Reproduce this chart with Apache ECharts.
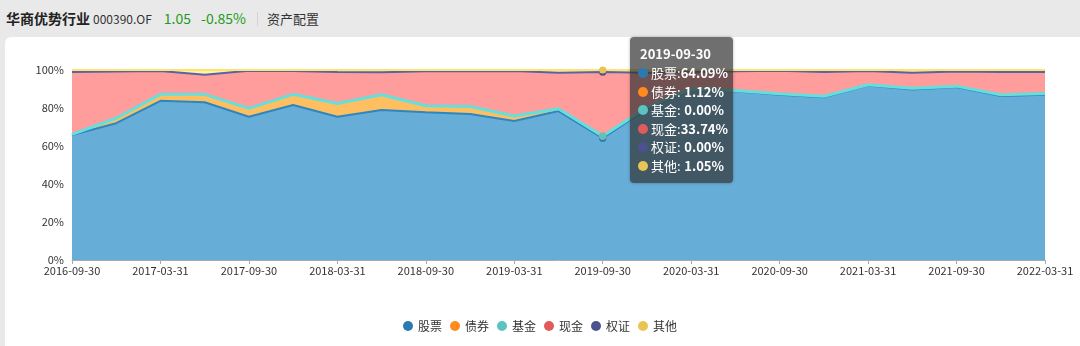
<!DOCTYPE html>
<html>
<head>
<meta charset="utf-8">
<script src="https://cdn.jsdelivr.net/npm/echarts@6/dist/echarts.min.js"></script>
<style>
  html, body { margin:0; padding:0; width:1080px; height:346px; background:#e9e9e9; overflow:hidden;
    font-family: "Noto Sans CJK SC", "Noto Sans", sans-serif; }
  #hdr { position:absolute; left:6px; top:0; height:36px; line-height:34px; white-space:nowrap; }
  #hdr .t { font-size:14px; font-weight:bold; color:#222; }
  #hdr .c { font-size:12px; color:#333; margin-left:3px; }
  #hdr .g { font-size:14px; color:#1e9a1e; margin-left:12px; }
  #hdr .sep { display:inline-block; width:1px; height:14px; background:#d4d4d4; margin:0 9px 0 11px; vertical-align:-2px; }
  #hdr .s { font-size:13px; color:#333; }
  #panel { position:absolute; left:5px; top:37px; right:0; bottom:0; background:#fff; border-top-left-radius:6px; }
  #chart { position:absolute; left:0; top:0; width:1080px; height:346px; }
</style>
</head>
<body>
<div id="hdr"><span class="t">华商优势行业</span><span class="c">000390.OF</span><span class="g">1.05</span><span class="g" style="margin-left:10px">-0.85%</span><span class="sep"></span><span class="s">资产配置</span></div>
<div id="panel"></div>
<div id="chart"></div>
<script>
const dates = ['2016-09-30','2016-12-31','2017-03-31','2017-06-30','2017-09-30','2017-12-31','2018-03-31','2018-06-30','2018-09-30','2018-12-31','2019-03-31','2019-06-30','2019-09-30','2019-12-31','2020-03-31','2020-06-30','2020-09-30','2020-12-31','2021-03-31','2021-06-30','2021-09-30','2021-12-31','2022-03-31'];
const seriesNames = ['股票','债券','基金','现金','权证','其他'];
const stock   = [65.8,72.0,83.8,83.0,75.4,81.6,75.4,79.0,77.7,76.8,73.2,78.4,64.09,79.5,89.5,88.8,87.0,85.6,91.8,89.8,91.0,86.3,87.0];
const bond    = [0.3,2.6,3.4,4.2,4.4,5.6,7.0,8.0,3.5,4.0,2.6,1.2,1.12,0.8,0.5,0.4,0.5,0.6,0.4,0.6,0.5,0.7,0.6];
const fund    = [0,0,0,0,0,0,0,0,0,0,0,0,0,0,0,0,0,0,0,0,0,0,0];
const cash    = [32.9,24.6,12.3,10.3,19.8,12.3,16.6,11.8,18.1,18.5,23.7,19.0,33.74,18.2,9.0,10.2,12.1,12.8,7.3,8.2,7.7,12.0,11.4];
const warrant = [0,0,0,0,0,0,0,0,0,0,0,0,0,0,0,0,0,0,0,0,0,0,0];
const other   = [1.0,0.8,0.5,2.5,0.4,0.5,1.0,1.2,0.7,0.7,0.5,1.4,1.05,1.5,1.0,0.6,0.4,1.0,0.5,1.4,0.8,1.0,1.0];
const yTicks = [0,20,40,60,80,100];

const values = [stock, bond, fund, cash, warrant, other];
const markerColors = ['#2a7ab0','#ff8a1e','#5cc2c2','#e05c5c','#4b528f','#e8c555'];
const lineColors   = ['#2a7ab0','#fbaa55','#5ccac8','#f08e8e','#4e5a9c','#f1cf66'];
const lineWidths   = [2, 0, 3, 0, 2, 2];
const areaColors   = ['#5d9ec4','#fcae58','#5ccac8','#f28e8e','#5f69a0','#f9df92'];

const chart = echarts.init(document.getElementById('chart'), null, {renderer:'canvas'});
const font = '"Noto Sans CJK SC", "Noto Sans", sans-serif';

const option = {
  backgroundColor: 'transparent',
  textStyle: { fontFamily: font },
  animation: false,
  grid: { left: 72, right: 35, top: 70, bottom: 86 },
  legend: {
    bottom: 9, left: 'center', icon: 'circle', itemWidth: 10, itemHeight: 10, itemGap: 8,
    textStyle: { fontSize: 12, color: '#333', fontFamily: font },
    data: seriesNames
  },
  tooltip: {
    trigger: 'axis',
    alwaysShowContent: true,
    axisPointer: { type: 'line', lineStyle: { color: 'rgba(0,0,0,0)', width: 0 } },
    backgroundColor: 'rgba(50,50,50,0.7)',
    borderWidth: 0,
    padding: [7, 9, 8, 8],
    extraCssText: 'border-radius:4px;box-shadow:0 0 3px rgba(0,0,0,0.3);',
    position: function () { return [630, 37]; },
    formatter: function (params) {
      let html = '<div style="font-weight:bold;font-size:13px;line-height:20px;color:#fff;padding-left:2px">' + params[0].axisValue + '</div>';
      params.forEach(function (p, i) {
        const v = Number(p.value).toFixed(2) + '%';
        html += '<div style="display:flex;align-items:center;width:86px;line-height:18.5px;font-size:13px;color:#fff">' +
          '<span style="flex-shrink:0;display:inline-block;width:10px;height:10px;border-radius:5px;background:' + markerColors[i] + ';margin-right:3px"></span>' +
          '<span style="flex-shrink:0">' + p.seriesName + ':</span>' +
          '<span style="margin-left:auto;font-weight:bold;flex-shrink:0">' + v + '</span></div>';
      });
      return html;
    }
  },
  xAxis: {
    type: 'category',
    boundaryGap: false,
    data: dates,
    axisLine: { lineStyle: { color: '#aaa' } },
    axisTick: { show: true, interval: 1, length: 4, lineStyle: { color: '#aaa' } },
    axisLabel: { interval: 1, color: '#333', fontSize: 11, margin: 5, fontFamily: font },
    splitLine: { show: false }
  },
  yAxis: {
    type: 'value', min: 0, max: 100, interval: 20,
    axisLine: { show: false },
    axisTick: { show: false },
    axisLabel: { color: '#333', fontSize: 11, formatter: '{value}%', fontFamily: font },
    splitLine: { show: false }
  },
  series: seriesNames.map(function (name, i) {
    return {
      name: name,
      type: 'line',
      stack: 'total',
      data: values[i],
      showSymbol: false,
      symbol: 'circle',
      symbolSize: 6,
      itemStyle: { color: markerColors[i] },
      lineStyle: { color: lineColors[i], width: lineWidths[i] },
      areaStyle: { color: areaColors[i], opacity: 1 },
      emphasis: { disabled: false, scale: 1.2, lineStyle: { width: lineWidths[i] } }
    };
  })
};
chart.setOption(option);
setTimeout(function () {
  chart.dispatchAction({ type: 'showTip', seriesIndex: 0, dataIndex: 12 });
}, 50);
</script>
</body>
</html>
